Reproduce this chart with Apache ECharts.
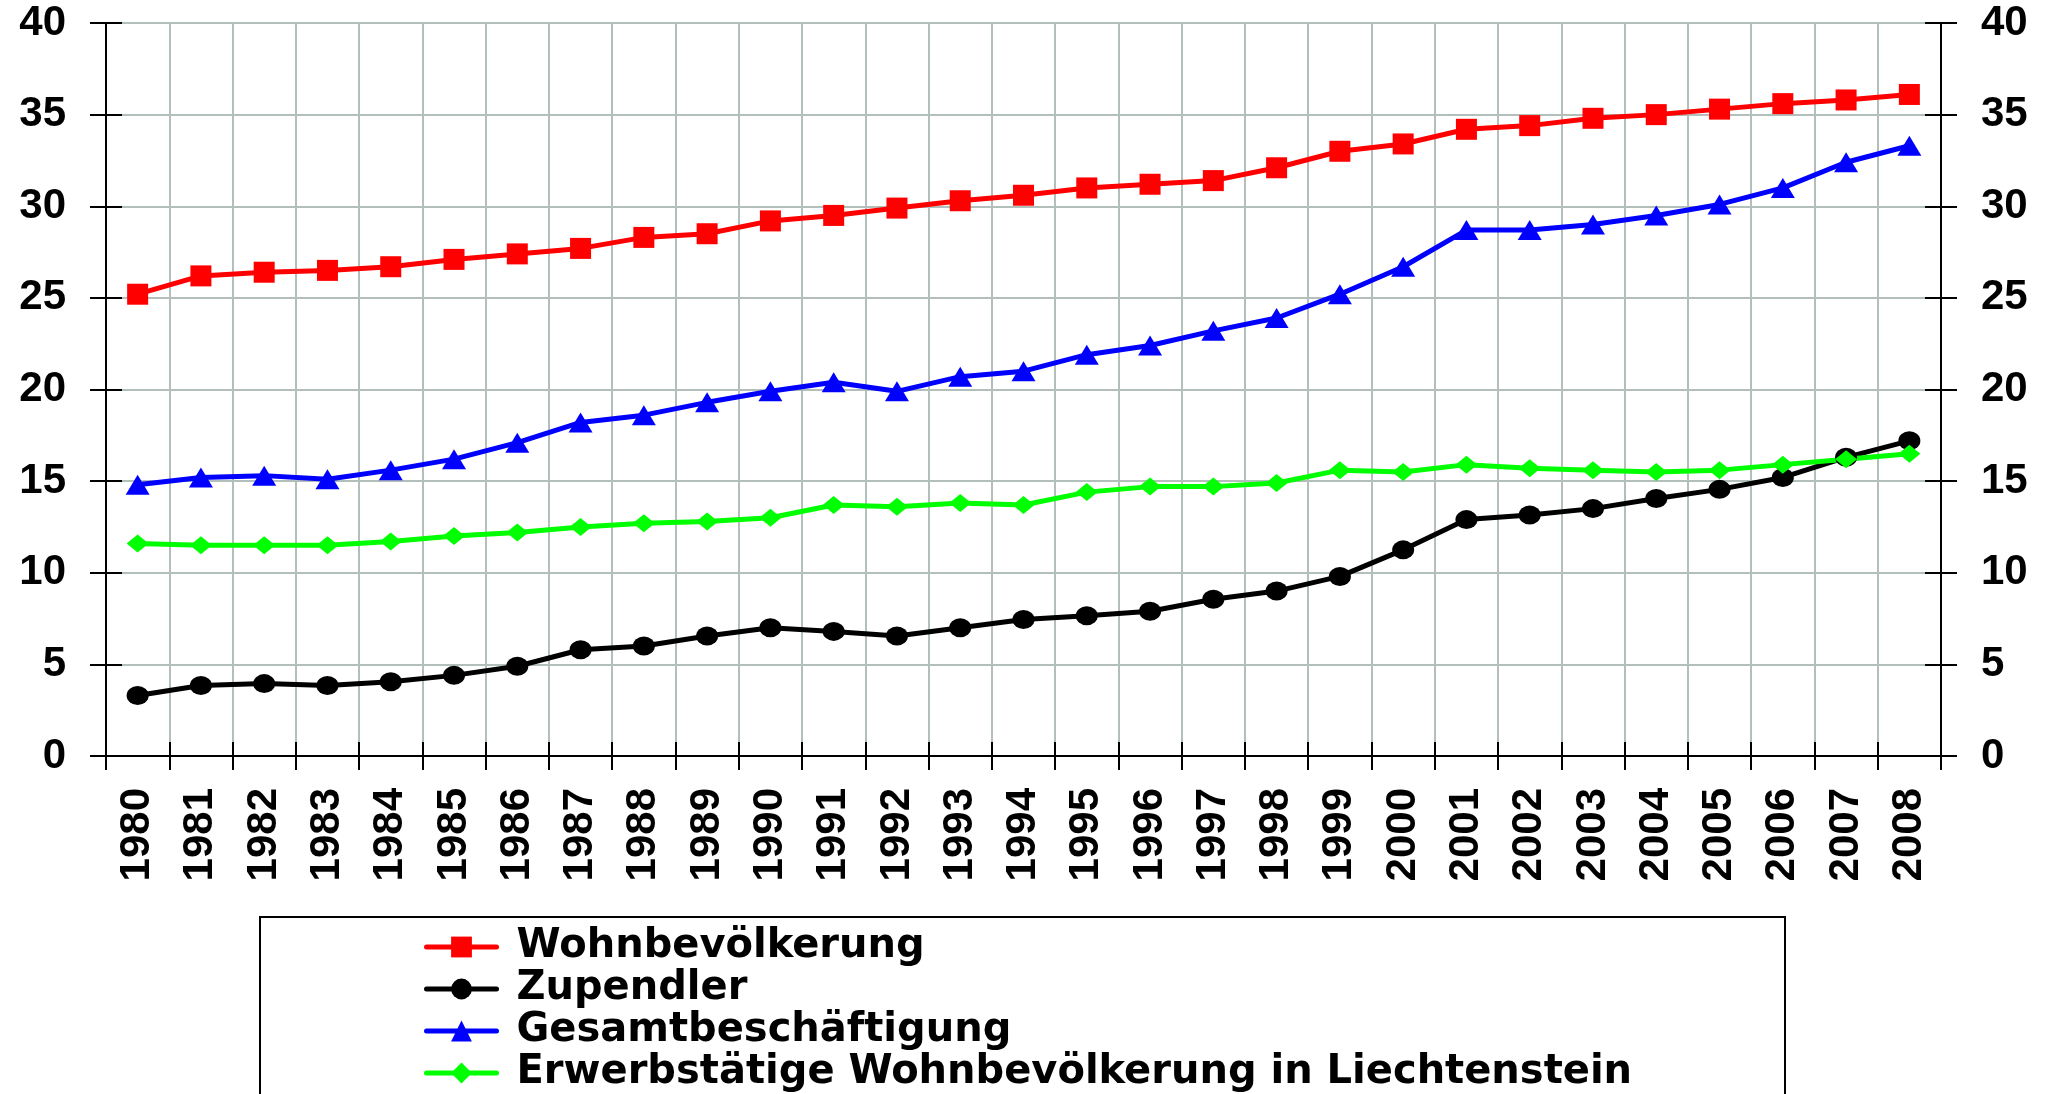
<!DOCTYPE html>
<html lang="de">
<head>
    <meta charset="utf-8">
    <script src="https://cdn.jsdelivr.net/npm/echarts@6/dist/echarts.min.js"></script>
</head>
<body style="margin:0">
<div id="main" style="width: 2054px;height:1094px;"></div>
<script type="text/javascript">
    // Jahre und Werte (in Tausend)
    var years = ['1980','1981','1982','1983','1984','1985','1986','1987','1988','1989',
                 '1990','1991','1992','1993','1994','1995','1996','1997','1998','1999',
                 '2000','2001','2002','2003','2004','2005','2006','2007','2008'];
    var wohnbevoelkerung = [25.2,26.2,26.4,26.5,26.7,27.1,27.4,27.7,28.3,28.5,29.2,29.5,29.9,30.3,30.6,
                            31.0,31.2,31.4,32.1,33.0,33.4,34.2,34.4,34.8,35.0,35.3,35.6,35.8,36.1];
    var zupendler = [3.3,3.85,3.95,3.85,4.05,4.4,4.9,5.8,6.0,6.55,7.0,6.8,6.55,7.0,7.45,
                     7.65,7.9,8.55,9.0,9.8,11.25,12.9,13.15,13.5,14.05,14.55,15.2,16.3,17.2];
    var gesamtbeschaeftigung = [14.8,15.2,15.3,15.1,15.6,16.2,17.1,18.2,18.6,19.3,19.9,20.4,19.9,20.7,21.0,
                                21.9,22.4,23.2,23.9,25.2,26.7,28.7,28.7,29.0,29.5,30.1,31.0,32.4,33.3];
    var erwerbstaetige = [11.6,11.5,11.5,11.5,11.7,12.0,12.2,12.5,12.7,12.8,13.0,13.7,13.6,13.8,13.7,
                          14.4,14.7,14.7,14.9,15.6,15.5,15.9,15.7,15.6,15.5,15.6,15.9,16.2,16.5];

    var myChart = echarts.init(document.getElementById('main'));

    var axisFont = { fontFamily: 'Liberation Sans', fontWeight: 'bold', fontSize: 42, color: '#000' };
    var gridColor = '#b3bfbb';

    function valueAxis(pos, showLabel, tickInside, grid) {
        return {
            type: 'value', position: pos, min: 0, max: 40, interval: 5,
            axisLine: { show: true, lineStyle: { color: '#000', width: 2 } },
            axisTick: { show: true, inside: tickInside, length: 16, lineStyle: { color: '#000', width: 2 } },
            axisLabel: Object.assign({ show: showLabel, margin: 40 }, axisFont),
            splitLine: { show: grid, lineStyle: { color: gridColor, width: 2 } }
        };
    }

    function line(name, data, color, symbol, size) {
        return {
            name: name, type: 'line', data: data,
            symbol: symbol, symbolSize: size,
            lineStyle: { color: color, width: 5 },
            itemStyle: { color: color },
            z: 3
        };
    }

    var option = {
        animation: false,
        grid: { left: 106, right: 113, top: 23, bottom: 338 },
        legend: {
            orient: 'vertical', left: 424, top: 926, padding: 0,
            itemWidth: 70, itemHeight: 26, itemGap: 0,
            lineStyle: { width: 5, cap: 'round' },
            textStyle: { fontFamily: 'DejaVu Sans', fontWeight: 'bold', fontSize: 40, color: '#000',
                         lineHeight: 42, padding: [0, 0, 0, 15] },
            data: ['Wohnbevölkerung', 'Zupendler', 'Gesamtbeschäftigung', 'Erwerbstätige Wohnbevölkerung in Liechtenstein']
        },
        graphic: [{
            type: 'rect', left: 259, top: 916, z: -1,
            shape: { width: 1525, height: 300 },
            style: { fill: '#fff', stroke: '#000', lineWidth: 2 }
        }],
        xAxis: [{
            type: 'category', data: years, boundaryGap: true,
            axisLine: { lineStyle: { color: '#000', width: 2 } },
            axisTick: { show: true, length: 14, lineStyle: { color: '#000', width: 2 } },
            axisLabel: Object.assign({ rotate: 90, margin: 32, interval: 0 }, axisFont),
            splitLine: { show: true, lineStyle: { color: gridColor, width: 2 } }
        }, {
            type: 'category', data: years, position: 'bottom', boundaryGap: true,
            axisLine: { show: false },
            axisTick: { show: true, inside: true, length: 14, lineStyle: { color: '#000', width: 2 } },
            axisLabel: { show: false },
            splitLine: { show: false }
        }],
        yAxis: [
            valueAxis('left', true, false, true),
            valueAxis('right', true, false, false),
            valueAxis('left', false, true, false),
            valueAxis('right', false, true, false)
        ],
        series: [
            line('Wohnbevölkerung', wohnbevoelkerung, '#ff0000', 'rect', 21),
            line('Zupendler', zupendler, '#000000', 'circle', [22, 19]),
            line('Gesamtbeschäftigung', gesamtbeschaeftigung, '#0000ff', 'triangle', [24, 20]),
            line('Erwerbstätige Wohnbevölkerung in Liechtenstein', erwerbstaetige, '#00ff00', 'diamond', [22, 18])
        ]
    };
    myChart.setOption(option);
</script>
</body>
</html>
